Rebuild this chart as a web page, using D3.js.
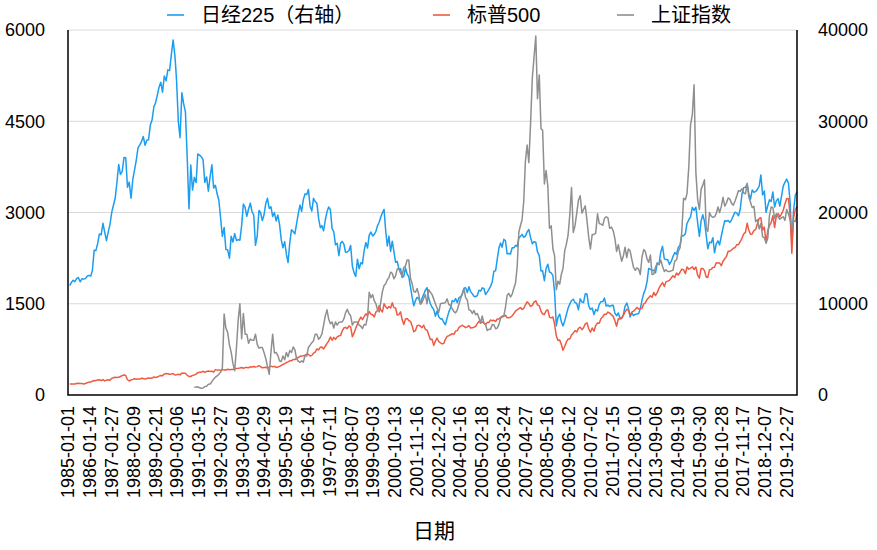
<!DOCTYPE html>
<html lang="zh">
<meta charset="utf-8">
<title>日经225 / 标普500 / 上证指数</title>
<style>
  body { margin: 0; background: #fff; }
  text { font-family: "Liberation Sans", "Noto Sans CJK SC", sans-serif; fill: #000; }
</style>
<body>
<svg id="chart"></svg>
<script src="https://cdn.jsdelivr.net/npm/d3@7"></script>
<script>

    ///////////////////// Data (month-end values) /////////////////////
    // x-axis tick labels
    var tickLabels = ["1985-01-01","1986-01-14","1987-01-27","1988-02-09","1989-02-21",
        "1990-03-06","1991-03-15","1992-03-27","1993-04-09","1994-04-29","1995-05-19",
        "1996-06-14","1997-07-11","1998-08-07","1999-09-03","2000-10-13","2001-11-16",
        "2002-12-20","2004-01-16","2005-02-18","2006-03-24","2007-04-27","2008-05-16",
        "2009-06-12","2010-07-02","2011-07-15","2012-08-10","2013-09-06","2014-09-19",
        "2015-09-30","2016-10-28","2017-11-17","2018-12-07","2019-12-27"];

    var leftTicks  = [0, 1500, 3000, 4500, 6000];
    var rightTicks = [0, 10000, 20000, 30000, 40000];

    // 日经225, monthly from 1985-01 (right axis)
    var nikkeiStart = "1985-01";
    var nikkei = [
        11992,12321,12580,12426,12759,12882,12406,12737,12700,12758,13015,13113,
        13024,13641,15860,15825,16608,17654,17556,18821,17853,16911,17852,18701,
        20048,20766,21566,23274,25262,24176,24488,26029,26011,22765,23330,21564,
        23622,24610,25722,27077,27415,27769,28339,27366,27924,27979,29579,30159,
        31581,31985,32838,33713,34266,33183,34954,34431,35637,35549,37269,38916,
        37189,34592,29980,28200,33131,31940,31036,25978,20400,25194,22455,23849,
        23293,26409,26292,26112,25790,23291,23900,22336,23916,25222,22688,22984,
        22023,21339,19346,17390,18347,15951,15910,15000,17400,16767,17684,16925,
        17024,16953,18591,20919,20552,19590,20380,21027,20106,19704,16408,17417,
        20229,19997,19112,19725,20974,21552,20449,20629,19564,19990,19076,19723,
        18650,17053,16140,16807,15437,14517,16678,18117,17913,17655,18744,19868,
        20813,20125,21407,22041,21956,22530,20693,20167,21556,21197,21020,19361,
        18330,18557,18003,19151,20068,20605,20331,18229,17888,16459,16636,15259,
        16628,16832,16527,15641,15671,15830,16379,14108,13406,13000,14883,13842,
        14499,14368,15837,16701,16112,17530,17862,17437,17605,17942,18558,18934,
        19540,19960,20337,17974,16332,17411,15727,16861,15747,14540,14649,13786,
        13844,12884,12999,13934,13262,12969,11861,10714,9775,10367,10697,10543,
        9998,10588,11025,11493,11764,10622,10000,9619,9383,8640,9216,8579,
        8340,8363,7973,7700,8425,9083,9563,10344,10219,10560,10101,10677,
        10784,11042,11715,11762,11236,11859,11326,11082,10824,10771,10899,11489,
        11388,11740,11668,11009,11277,11584,11900,12414,13574,13607,14872,16111,
        16650,16206,17060,16906,15467,15505,15457,16141,16128,16399,16274,17226,
        17383,17604,17288,17400,17876,18138,17249,16569,16786,16738,15681,15308,
        13592,13603,12526,13850,14339,13482,13377,13073,11260,7600,8512,8860,
        7994,7568,8110,8828,9523,9958,10357,10493,10134,10035,9346,10546,
        10198,10126,11090,11057,9769,9383,9537,8824,9369,9202,9937,10229,
        10238,10624,9755,9850,9694,9816,9833,8955,8700,8988,8435,8455,
        8803,9723,10084,9521,8543,9007,8695,8840,8870,8928,9446,10395,
        11139,11559,12398,13861,13775,13677,13668,13389,14456,14328,15662,16291,
        14915,14841,14828,14304,14632,15162,15621,15425,16174,16414,17460,17451,
        17674,18798,19207,19520,20563,20236,20585,18890,17388,19083,19747,19034,
        17518,16027,16759,16666,17235,15576,16569,16887,16450,17425,18308,19114,
        19041,19119,18909,19197,19651,20033,19925,19646,20356,22012,22725,22765,
        23098,22068,21454,22468,22202,22305,22554,22865,24120,21920,22351,20015,
        20773,21385,21206,22259,20601,21276,21521,20704,21756,22927,23294,23657,
        23205,21143,16600,20194,21878,22288
    ];

    // 标普500, monthly from 1985-01 (left axis)
    var spxStart = "1985-01";
    var spx = [
        179.6,181.2,180.7,179.8,189.6,191.9,190.9,188.6,182.1,189.8,202.2,211.3,
        211.8,226.9,238.9,235.5,247.4,250.8,236.1,252.9,231.3,244.0,249.2,242.2,
        274.1,284.2,291.7,288.4,290.1,304.0,318.7,329.8,321.8,251.8,230.3,247.1,
        257.1,267.8,258.9,261.3,262.2,273.5,272.0,261.5,271.9,279.0,273.7,277.7,
        297.5,288.9,294.9,309.6,320.5,318.0,346.1,351.5,349.2,340.4,346.0,353.4,
        329.1,331.9,339.9,330.8,361.2,358.0,356.2,322.6,306.1,304.0,322.2,330.2,
        343.9,367.1,375.2,375.3,389.8,371.2,387.8,395.4,387.9,392.5,375.2,417.1,
        408.8,412.7,403.7,415.0,415.4,408.1,424.2,414.0,417.8,418.7,431.4,435.7,
        438.8,443.4,451.7,440.2,450.2,450.5,448.1,463.6,458.9,467.8,461.8,466.5,
        481.6,467.1,445.8,450.9,456.5,444.3,458.3,475.5,462.7,472.4,453.7,459.3,
        470.4,487.4,500.7,514.7,533.4,544.8,562.1,561.9,584.4,581.5,605.4,615.9,
        636.0,640.4,645.5,654.2,669.1,670.6,640.0,652.0,687.3,705.3,757.0,740.7,
        786.2,790.8,757.1,801.3,848.3,885.1,954.3,899.5,947.3,914.6,955.4,970.4,
        980.3,1049.3,1101.8,1111.8,1090.8,1133.8,1120.7,957.3,1017.0,1098.7,1163.6,1229.2,
        1279.6,1238.3,1286.4,1335.2,1301.8,1372.7,1328.7,1320.4,1282.7,1362.9,1388.9,1469.3,
        1394.5,1366.4,1498.6,1452.4,1420.6,1454.6,1430.8,1517.7,1436.5,1429.4,1315.2,1320.3,
        1366.0,1239.9,1160.3,1249.5,1255.8,1224.4,1211.2,1133.6,1040.9,1059.8,1139.5,1148.1,
        1130.2,1106.7,1147.4,1076.9,1067.1,989.8,911.6,916.1,815.3,885.8,936.3,879.8,
        855.7,841.2,848.2,916.9,963.6,974.5,990.3,1008.0,996.0,1050.7,1058.2,1111.9,
        1131.1,1144.9,1126.2,1107.3,1120.7,1140.8,1101.7,1104.2,1114.6,1130.2,1173.8,1211.9,
        1181.3,1203.6,1180.6,1156.9,1191.5,1191.3,1234.2,1220.3,1228.8,1207.0,1249.5,1248.3,
        1280.1,1280.7,1294.9,1310.6,1270.1,1270.2,1276.7,1303.8,1335.9,1377.9,1400.6,1418.3,
        1438.2,1406.8,1420.9,1482.4,1530.6,1503.4,1455.3,1474.0,1526.8,1549.4,1481.1,1468.4,
        1378.6,1330.6,1322.7,1385.6,1400.4,1280.0,1267.4,1282.8,1166.4,968.8,896.2,903.3,
        825.9,735.1,797.9,872.8,919.1,919.3,987.5,1020.6,1057.1,1036.2,1095.6,1115.1,
        1073.9,1104.5,1169.4,1186.7,1089.4,1030.7,1101.6,1049.3,1141.2,1183.3,1180.6,1257.6,
        1286.1,1327.2,1325.8,1363.6,1345.2,1320.6,1292.3,1218.9,1131.4,1253.3,1247.0,1257.6,
        1312.4,1365.7,1408.5,1397.9,1310.3,1362.2,1379.3,1406.6,1440.7,1412.2,1416.2,1426.2,
        1498.1,1514.7,1569.2,1597.6,1630.7,1606.3,1685.7,1633.0,1681.6,1756.5,1805.8,1848.4,
        1782.6,1859.5,1872.3,1884.0,1923.6,1960.2,1930.7,2003.4,1972.3,2018.1,2067.6,2058.9,
        1995.0,2104.5,2067.9,2085.5,2107.4,2063.1,2103.8,1972.2,1920.0,2079.4,2080.4,2043.9,
        1940.2,1932.2,2059.7,2065.3,2097.0,2098.9,2173.6,2171.0,2168.3,2126.2,2198.8,2238.8,
        2278.9,2363.6,2362.7,2384.2,2411.8,2423.4,2470.3,2471.7,2519.4,2575.3,2647.6,2673.6,
        2823.8,2713.8,2640.9,2648.1,2705.3,2718.4,2816.3,2901.5,2914.0,2711.7,2760.2,2506.9,
        2704.1,2784.5,2834.4,2945.8,2752.1,2941.8,2980.4,2926.5,2976.7,3037.6,3141.0,3230.8,
        3225.5,2954.2,2330.0,2912.4,3044.3,3100.3
    ];

    // 上证指数, monthly from 1990-12 (left axis)
    var sseStart = "1990-12";
    var sse = [
        128,
        130,134,120,110,115,138,145,178,181,219,260,293,
        313,342,376,445,1330,1100,1030,822,704,515,400,780,
        1250,1500,925,1340,1000,1000,850,920,900,900,1000,834,
        770,780,780,700,600,470,340,700,1000,690,700,648,
        560,550,640,580,700,630,730,700,790,740,600,555,
        537,560,540,650,640,780,820,860,890,1000,1000,917,
        950,1000,1150,1300,1400,1250,1170,1200,1100,1200,1150,1194,
        1200,1200,1250,1350,1410,1340,1300,1150,1200,1200,1200,1147,
        1130,1090,1160,1150,1280,1690,1600,1650,1550,1500,1400,1367,
        1535,1700,1800,1830,1895,1930,2020,2000,1910,1960,2070,2073,
        2000,1960,2100,2120,2220,2220,1920,1830,1700,1690,1750,1646,
        1490,1520,1590,1650,1500,1730,1690,1650,1580,1500,1430,1358,
        1500,1510,1510,1520,1580,1490,1470,1420,1370,1350,1400,1497,
        1590,1670,1740,1600,1560,1400,1390,1340,1390,1320,1340,1267,
        1190,1300,1180,1160,1060,1080,1080,1160,1155,1090,1100,1161,
        1260,1300,1300,1440,1640,1670,1610,1660,1750,1840,2100,2675,
        2790,2880,3180,3840,4110,3820,4470,5220,5550,5900,4870,5262,
        4380,4350,3470,3690,3430,2740,2780,2400,2290,1730,1870,1821,
        1990,2080,2370,2480,2630,2960,3410,2670,2780,2990,3200,3277,
        2990,3050,3110,2870,2590,2400,2640,2640,2660,2980,2820,2808,
        2790,2900,2930,2910,2740,2760,2700,2570,2360,2470,2330,2199,
        2290,2430,2260,2400,2370,2230,2100,2050,2090,2070,1980,2269,
        2390,2360,2240,2180,2300,1980,1990,2100,2170,2140,2220,2116,
        2030,2060,2030,2030,2040,2050,2200,2220,2360,2420,2680,3235,
        3210,3310,3750,4440,4610,5100,3660,3210,3050,3380,3450,3539,
        2740,2690,3000,2940,2920,2930,2980,3090,3000,3100,3250,3104,
        3160,3240,3220,3150,3120,3190,3270,3360,3350,3390,3320,3307,
        3480,3260,3170,3080,3100,2850,2880,2730,2820,2600,2590,2494,
        2580,2940,3090,3080,2900,2980,2930,2890,2910,2930,2870,3050,
        2977,2880,2750,2860,2852,2985
    ];
    ////////////////////////////////////////////////////////////////////

    ////////////////////// Layout / style //////////////////////////////
    var W = 877, H = 550;
    var plotL = 68, plotR = 797, plotT = 30, plotB = 395;
    var plotW = plotR - plotL, plotH = plotB - plotT;

    var blue = '#1b9df0', red = '#ef5a43', grey = '#8f8f8f';
    var gridColor = '#d9d9d9';
    var fontSize = 18;
    ////////////////////////////////////////////////////////////////////

    var parseDay = d3.timeParse("%Y-%m-%d");
    var parseMonth = d3.timeParse("%Y-%m");

    // month-end dates for a series starting at "YYYY-MM"
    function toPoints(start, vals) {
        var s = parseMonth(start);
        return vals.map(function (v, i) {
            return { date: new Date(s.getFullYear(), s.getMonth() + i + 1, 0), value: v };
        });
    }
    var nikkeiPts = toPoints(nikkeiStart, nikkei);
    var spxPts    = toPoints(spxStart, spx);
    var ssePts    = toPoints(sseStart, sse);

    var tickDates = tickLabels.map(parseDay);
    var lastDate  = d3.max([nikkeiPts, spxPts, ssePts], function (a) { return a[a.length - 1].date; });

    // category-like axis: ticks are equally spaced, piecewise linear in time between them
    var unit = d3.scaleTime().domain(tickDates).range(tickDates.map(function (d, i) { return i; }));
    var step = plotW / unit(lastDate);
    var x = d3.scaleTime().domain(tickDates)
        .range(tickDates.map(function (d, i) { return plotL + i * step; }));

    var yL = d3.scaleLinear().domain([0, 6000]).range([plotB, plotT]);
    var yR = d3.scaleLinear().domain([0, 40000]).range([plotB, plotT]);

    var svg = d3.select("#chart").attr('width', W).attr('height', H);

    // grid lines
    svg.append("g").selectAll("line")
        .data(leftTicks.slice(1))
        .join("line")
        .attr('x1', plotL).attr('x2', plotR)
        .attr('y1', function (d) { return yL(d); })
        .attr('y2', function (d) { return yL(d); })
        .attr('stroke', gridColor)
        .attr('stroke-width', 1.2);

    // left axis labels
    svg.append("g").selectAll("text")
        .data(leftTicks)
        .join("text")
        .attr('x', 45)
        .attr('y', function (d) { return yL(d); })
        .attr('dy', '0.36em')
        .attr('text-anchor', 'end')
        .attr('font-size', fontSize)
        .text(function (d) { return d; });

    // right axis labels
    svg.append("g").selectAll("text")
        .data(rightTicks)
        .join("text")
        .attr('x', 818)
        .attr('y', function (d) { return yR(d); })
        .attr('dy', '0.36em')
        .attr('text-anchor', 'start')
        .attr('font-size', fontSize)
        .text(function (d) { return d; });

    // x tick labels, rotated
    svg.append("g").selectAll("text")
        .data(tickDates)
        .join("text")
        .attr('transform', function (d) { return "translate(" + x(d) + ",406) rotate(-90)"; })
        .attr('dy', '0.36em')
        .attr('text-anchor', 'end')
        .attr('font-size', 18)
        .text(d3.timeFormat("%Y-%m-%d"));

    // x title
    svg.append("text")
        .attr('x', 434).attr('y', 530)
        .attr('dy', '0.36em')
        .attr('text-anchor', 'middle')
        .attr('font-size', 21)
        .text("日期");

    // series
    var lineL = d3.line().x(function (d) { return x(d.date); }).y(function (d) { return yL(d.value); });
    var lineR = d3.line().x(function (d) { return x(d.date); }).y(function (d) { return yR(d.value); });

    svg.append("path").datum(nikkeiPts).attr('d', lineR)
        .attr('fill', 'none').attr('stroke', blue).attr('stroke-width', 1.5).attr('stroke-linejoin', 'round');
    svg.append("path").datum(spxPts).attr('d', lineL)
        .attr('fill', 'none').attr('stroke', red).attr('stroke-width', 1.5).attr('stroke-linejoin', 'round');
    svg.append("path").datum(ssePts).attr('d', lineL)
        .attr('fill', 'none').attr('stroke', grey).attr('stroke-width', 1.5).attr('stroke-linejoin', 'round');

    // axis frame (left, bottom, right)
    svg.append("path")
        .attr('d', "M" + plotL + "," + plotT + "V" + plotB + "H" + plotR + "V" + plotT)
        .attr('fill', 'none').attr('stroke', '#000').attr('stroke-width', 1.5);

    // legend
    var legend = [
        { name: "日经225（右轴）", color: blue, x: 167 },
        { name: "标普500",        color: red,  x: 433 },
        { name: "上证指数",        color: grey, x: 617 }
    ];
    var lg = svg.append("g").selectAll("g").data(legend).join("g")
        .attr('transform', function (d) { return "translate(" + d.x + ",15)"; });
    lg.append("line").attr('x1', 0).attr('x2', 17)
        .attr('stroke', function (d) { return d.color; }).attr('stroke-width', 1.6);
    lg.append("text").attr('x', 34).attr('dy', '0.36em')
        .attr('font-size', 20)
        .text(function (d) { return d.name; });

</script>
</body>
</html>
